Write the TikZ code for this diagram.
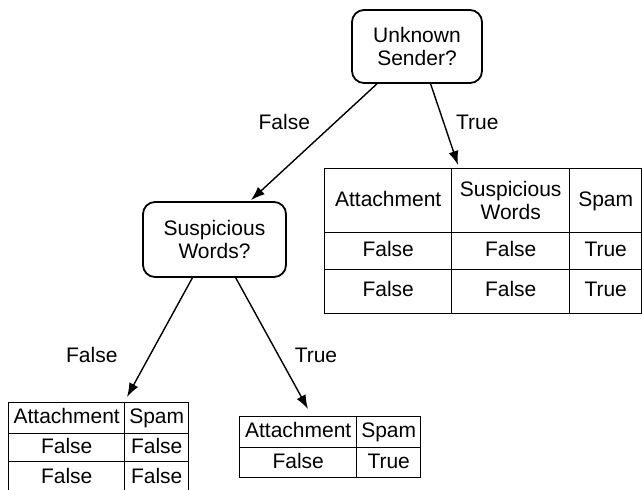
\documentclass[tikz,border=0pt]{standalone}
\usepackage{fontspec}
\setmainfont{Liberation Sans}
\usetikzlibrary{matrix,positioning,calc,arrows.meta}

\begin{document}
\begin{tikzpicture}[
    x=0.5pt, y=-0.5pt,
    test/.style={
        draw,
        rounded corners=6pt,
        line width=0.9pt,
        align=center,
        inner sep=0pt,
        minimum width=65pt,
        minimum height=36.5pt
    },
    tbl/.style={
        matrix of nodes,
        anchor=north west,
        inner sep=0pt,
        outer sep=0pt,
        nodes={
            draw,
            line width=0.7pt,
            inner sep=0pt,
            anchor=center,
            text height=7.6pt,
            text depth=2.2pt
        },
        column sep=-0.7pt,
        row sep=-0.7pt
    },
    branch/.style={->, line width=0.7pt},
    >={Latex[length=7pt,width=5pt]},
    font=\fontsize{10.5}{11.5}\selectfont
    ]
\useasboundingbox (0,0) rectangle (642,489);

\node[test] (sender) at (417,46.5) {Unknown\\Sender?};
\node[test, minimum width=71.5pt, minimum height=37.5pt] (words) at (214.5,239.5) {Suspicious\\Words?};

\matrix[tbl,
    column 1/.style={nodes={minimum width=63.5pt}},
    column 2/.style={nodes={minimum width=59pt}},
    column 3/.style={nodes={minimum width=36pt}},
    row 1/.style={nodes={minimum height=32pt}},
    row 2/.style={nodes={minimum height=18.25pt}},
    row 3/.style={nodes={minimum height=22pt}}
    ] (tabR) at (324,168)
{
    Attachment & |[text height=, text depth=]| \parbox{55pt}{\centering Suspicious\\Words} & Spam \\
    False & False & True \\
    False & False & True \\
};

\matrix[tbl,
    column 1/.style={nodes={minimum width=58pt}},
    column 2/.style={nodes={minimum width=32pt}},
    row 1/.style={nodes={minimum height=15.5pt}},
    row 2/.style={nodes={minimum height=14pt}},
    row 3/.style={nodes={minimum height=16pt}}
    ] (tabL) at (8,402)
{
    Attachment & Spam \\
    False & False \\
    False & False \\
};

\matrix[tbl,
    column 1/.style={nodes={minimum width=58.5pt}},
    column 2/.style={nodes={minimum width=32pt}},
    row 1/.style={nodes={minimum height=15.5pt}},
    row 2/.style={nodes={minimum height=15pt}}
    ] (tabM) at (239,416)
{
    Attachment & Spam \\
    False & True \\
};

% branches
\draw[branch] (sender.223) -- node[pos=0.33, left=9pt] (senderF) {False} ($(words.north)+(36.5,-1)$);
\draw[branch] (sender.290) -- node[pos=0.48, right=2.5pt] (senderT) {True} ($(tabR.north west)+(134,-3)$);
\draw[branch] (words.240) -- node[pos=0.65, left=12.5pt] (wordsF) {False} ($(tabL.north west)+(119,-5)$);
\draw[branch] (words.299) -- node[pos=0.59, right=4.5pt] (wordsT) {True} ($(tabM.north west)+(69,-7)$);
\end{tikzpicture}
\end{document}
